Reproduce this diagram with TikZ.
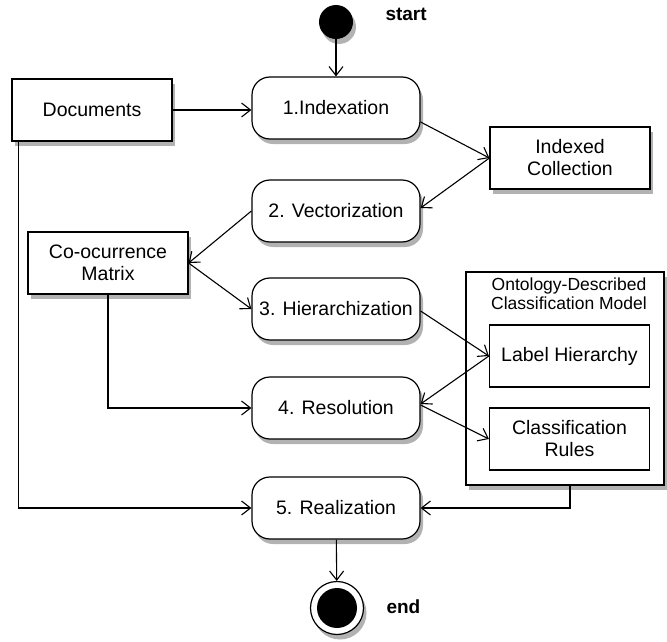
\documentclass[tikz,border=0pt]{standalone}
\usepackage{fontspec}
\setmainfont{Liberation Sans}
\usetikzlibrary{arrows.meta,shadows,calc}
\tikzset{
  shade/.style={drop shadow={shadow xshift=3pt,shadow yshift=-5pt,opacity=0.3,fill=black}},
  rectbox/.style={draw,line width=1.2pt,fill=white,minimum width=160pt,minimum height=62pt,align=center,font=\fontsize{19.5}{22}\selectfont,inner sep=2pt},
  actbox/.style={rectbox,minimum width=168pt,rounded corners=18pt},
  arr/.style={line width=1.1pt,-{Straight Barb[length=9pt,width=14pt,line width=1.1pt]}},
  lbl/.style={font=\bfseries\fontsize{19}{21}\selectfont},
}
\begin{document}
\begin{tikzpicture}[x=1pt,y=-1pt]
\useasboundingbox (0,0) rectangle (667,642);
% start / end
\node[circle,fill=black,minimum size=34pt,inner sep=0pt,shade] (start) at (336,22) {};
\node[lbl,anchor=west] (startl) at (382,14) {start};
\node[circle,draw,line width=1.2pt,fill=white,minimum size=53pt,inner sep=0pt,shade] (endo) at (337,608) {};
\node[circle,fill=black,minimum size=40pt,inner sep=0pt] (endi) at (337,608) {};
\node[lbl,anchor=west] (endl) at (383,607) {end};
% activities
\node[actbox,shade] (idx) at (336,108) {1.Indexation};
\node[actbox,shade] (vec) at (336,211) {2. Vectorization};
\node[actbox,shade] (hier) at (336,309) {3. Hierarchization};
\node[actbox,shade] (res) at (336,408) {4. Resolution};
\node[actbox,shade] (real) at (336,508) {5. Realization};
% objects
\node[rectbox,shade] (docs) at (92,110) {Documents};
\node[rectbox,shade] (ic) at (570,158) {Indexed\\Collection};
\node[rectbox,shade] (co) at (108,263) {Co-ocurrence\\Matrix};
\node[draw,line width=1.2pt,fill=white,minimum width=198pt,minimum height=213pt,shade] (onto) at (565,378.5) {};
\node[align=center,font=\fontsize{17.5}{19.5}\selectfont,anchor=north] (ontot) at (569,274) {Ontology-Described\\Classification Model};
\node[rectbox] (lh) at (569.5,356) {Label Hierarchy};
\node[rectbox] (cr) at (569.5,439) {Classification\\Rules};
% connectors
\draw[arr] (start) -- (idx);
\draw[arr] (docs.east) -- (docs.east -| idx.west);
\draw[arr] ([yshift=-14pt]idx.east) -- (ic.west);
\draw[arr] (ic.west) -- ([yshift=3pt]vec.east);
\draw[arr] (vec.west) -- (co.east);
\draw[arr] (co.east) -- (hier.west);
\draw[arr] (co.south) |- (res.west);
\draw[arr] ([yshift=-2pt]hier.east) -- (lh.west);
\draw[arr] (lh.west) -- ([yshift=4pt]res.east);
\draw[arr] ([yshift=3pt]res.east) -- (cr.west);
\draw[arr] ([xshift=7pt]docs.south west) |- (real.west);
\draw[arr] (onto.south -| 570,0) |- (real.east);
\draw[arr] (real) -- (endo);
\end{tikzpicture}
\end{document}
